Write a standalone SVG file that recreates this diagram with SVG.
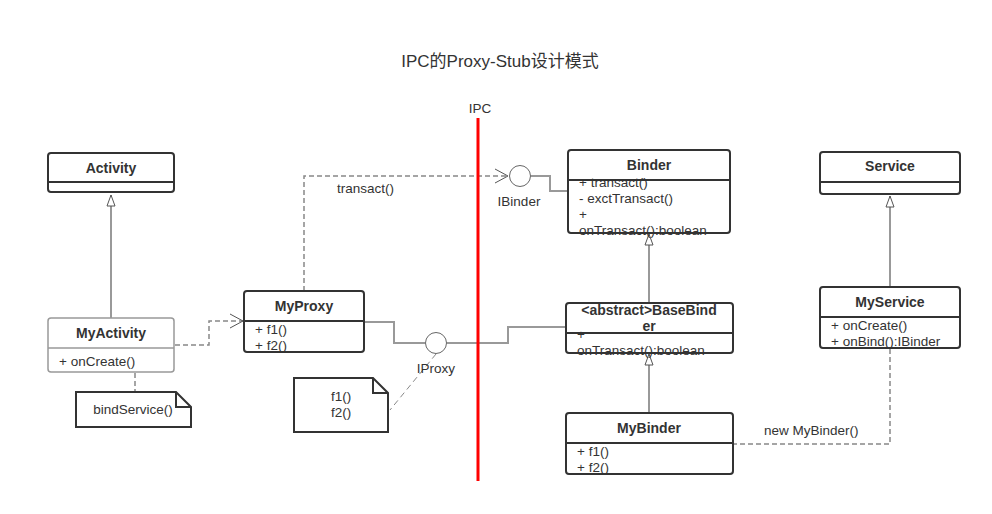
<svg xmlns="http://www.w3.org/2000/svg" width="992" height="514" viewBox="0 0 992 514">
<style>
text{font-family:"Liberation Sans","Noto Sans CJK SC",sans-serif;font-size:13.5px;fill:#333}
.t{font-weight:bold;text-anchor:middle;font-size:14px}
.c{text-anchor:middle}
.box{fill:#fff;stroke:#333;stroke-width:2}
.gbox{fill:#fff;stroke:#999;stroke-width:1.5}
.div{stroke:#333;stroke-width:2}
.gdiv{stroke:#999;stroke-width:1.5}
.sol{fill:none;stroke:#999;stroke-width:2}
.dash{fill:none;stroke:#888;stroke-width:1.5;stroke-dasharray:5 3}
.inh{fill:none;stroke:#999;stroke-width:2}
.note{fill:#fff;stroke:#333;stroke-width:2}
</style>
<defs>
<marker id="tri" markerWidth="14" markerHeight="12" refX="12" refY="5" orient="auto" markerUnits="userSpaceOnUse">
<path d="M12,5 L1,1 L1,9 Z" fill="#fff" stroke="#555" stroke-width="1"/>
</marker>
<marker id="open" markerWidth="16" markerHeight="16" refX="14" refY="8" orient="auto" markerUnits="userSpaceOnUse">
<path d="M1,1 L14,8 L1,15" fill="none" stroke="#555" stroke-width="1"/>
</marker>
</defs>
<text x="500" y="67" class="c" style="font-size:17px">IPC的Proxy-Stub设计模式</text>
<text x="480" y="113" class="c">IPC</text>
<g id="connectors">
<path class="inh" d="M111,318 V195" marker-end="url(#tri)"/>
<path class="inh" d="M649,413 V354" marker-end="url(#tri)"/>
<path class="inh" d="M649,303 V234" marker-end="url(#tri)"/>
<path class="inh" d="M890,287 V196" marker-end="url(#tri)"/>
<path class="dash" d="M175,345 H209 V321 H243" marker-end="url(#open)"/>
<path class="dash" d="M135,373 V392"/>
<path class="dash" d="M304,291 V176 H508" marker-end="url(#open)"/>
<text x="337" y="193">transact()</text>
<path class="sol" d="M364,322 H394 V343 H425"/>
<path class="sol" d="M447,343 H508 V327 H566"/>
<path class="sol" d="M531,176 H550 V191 H568"/>
<path class="dash" style="stroke-dasharray:6 4;stroke-width:1" d="M436,354 L390,410"/>
<path class="dash" d="M890,349 V444 H734"/>
<text x="764" y="435">new MyBinder()</text>
</g>
<g id="IProxy">
<circle cx="436" cy="343" r="10.5" fill="#fff" stroke="#666" stroke-width="1"/>
<text x="436" y="373" class="c">IProxy</text>
</g>
<g id="IBinder">
<circle cx="520" cy="176" r="10.5" fill="#fff" stroke="#666" stroke-width="1"/>
<text x="519" y="206" class="c">IBinder</text>
</g>
<line x1="478" y1="118" x2="478" y2="481" stroke="#f00" stroke-width="3"/>
<g id="Activity">
<rect class="box" x="48" y="153" width="126" height="39" rx="3"/>
<line class="div" x1="48" y1="182" x2="174" y2="182"/>
<text x="111" y="173" class="t">Activity</text>
</g>
<g id="MyActivity">
<rect class="gbox" x="48" y="318" width="126" height="54" rx="3"/>
<line class="gdiv" x1="48" y1="348" x2="174" y2="348"/>
<text x="111" y="338" class="t">MyActivity</text>
<text x="59" y="366">+ onCreate()</text>
</g>
<g id="note1">
<path class="note" d="M76,392 H176 L191,407 V427 H76 Z M176,392 V407 H191"/>
<text x="133" y="414" class="c">bindService()</text>
</g>
<g id="MyProxy">
<rect class="box" x="244" y="291" width="120" height="61" rx="3"/>
<line class="div" x1="244" y1="321" x2="364" y2="321"/>
<text x="304" y="311" class="t">MyProxy</text>
<text x="255" y="334">+ f1()</text>
<text x="255" y="350">+ f2()</text>
</g>
<g id="note2">
<path class="note" d="M294,378 H373 L388,393 V432 H294 Z M373,378 V393 H388"/>
<text x="341" y="401" class="c">f1()</text>
<text x="341" y="417" class="c">f2()</text>
</g>
<g id="Binder">
<rect class="box" x="568" y="150" width="162" height="83" rx="3"/>
<line class="div" x1="568" y1="180" x2="730" y2="180"/>
<text x="649" y="170" class="t">Binder</text>
<text x="579" y="187">+ transact()</text>
<text x="579" y="203">- exctTransact()</text>
<text x="579" y="219">+</text>
<text x="579" y="235">onTransact():boolean</text>
</g>
<g id="BaseBinder">
<rect class="box" x="566" y="303" width="167" height="50" rx="3"/>
<line class="div" x1="566" y1="333" x2="733" y2="333"/>
<text x="649" y="315" class="t">&lt;abstract&gt;BaseBind</text>
<text x="649" y="331" class="t">er</text>
<text x="577" y="339">+</text>
<text x="577" y="355">onTransact():boolean</text>
</g>
<g id="MyBinder">
<rect class="box" x="566" y="413" width="167" height="61" rx="3"/>
<line class="div" x1="566" y1="443" x2="733" y2="443"/>
<text x="649" y="433" class="t">MyBinder</text>
<text x="577" y="456">+ f1()</text>
<text x="577" y="472">+ f2()</text>
</g>
<g id="Service">
<rect class="box" x="820" y="152" width="140" height="42" rx="3"/>
<line class="div" x1="820" y1="182" x2="960" y2="182"/>
<text x="890" y="171" class="t">Service</text>
</g>
<g id="MyService">
<rect class="box" x="820" y="287" width="140" height="61" rx="3"/>
<line class="div" x1="820" y1="317" x2="960" y2="317"/>
<text x="890" y="307" class="t">MyService</text>
<text x="831" y="330">+ onCreate()</text>
<text x="831" y="346">+ onBind():IBinder</text>
</g>
</svg>
